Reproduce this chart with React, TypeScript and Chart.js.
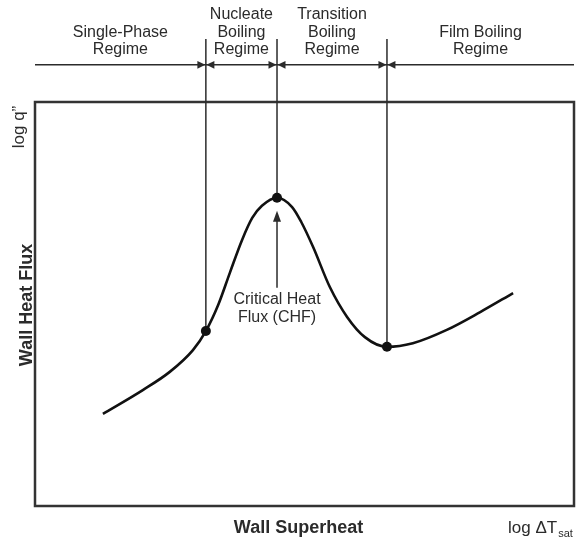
import React, { useEffect, useRef } from 'react';
import { Chart, registerables } from 'chart.js';

Chart.register(...registerables);

// Boiling curve, arbitrary log units (0–100 on each axis)
const LOG_DELTA_T = [12.6, 20.0, 25.0, 29.3, 31.7, 34.0, 36.2, 38.4, 40.3, 42.1, 44.9, 47.7, 49.4, 51.6, 54.7, 57.9, 61.2, 65.3, 70.1, 76.4, 82.6, 88.7];
const LOG_HEAT_FLUX = [22.8, 28.7, 33.2, 38.6, 43.3, 49.8, 57.9, 65.8, 71.3, 74.3, 76.3, 74.0, 70.3, 64.1, 54.2, 46.8, 41.8, 39.4, 40.3, 43.6, 48.0, 52.7];
// indices of the marked points: onset of nucleate boiling, CHF, Leidenfrost minimum
const MARKER_INDEX = [4, 10, 17];

const X_RANGE = [0, 100];
const Y_RANGE = [0, 100];

const REGIME_LABELS = [
  ['Single-Phase', 'Regime'],
  ['Nucleate', 'Boiling', 'Regime'],
  ['Transition', 'Boiling', 'Regime'],
  ['Film Boiling', 'Regime'],
];
const Y_TITLE = 'Wall Heat Flux';
const X_TITLE = 'Wall Superheat';
const Y_LOG_LABEL = 'log q\u201D';
const X_LOG_LABEL = 'log \u0394T';
const X_LOG_SUB = 'sat';
const CHF_LABEL = ['Critical Heat', 'Flux (CHF)'];

// y-values (in axis units, above the plot) for the regime arrow line and the boundary lines' top
const ARROW_LINE_Y = 109.2;
const BOUNDARY_TOP_Y = 115.6;

const FONT = '"Liberation Sans", Arial, Helvetica, sans-serif';
const INK = '#2b2b2b';

function tri(ctx: CanvasRenderingContext2D, pts: number[][]) {
  ctx.beginPath();
  ctx.moveTo(pts[0][0], pts[0][1]);
  ctx.lineTo(pts[1][0], pts[1][1]);
  ctx.lineTo(pts[2][0], pts[2][1]);
  ctx.closePath();
  ctx.fill();
}

const decorPlugin = {
  id: 'boilingDecor',
  beforeDatasetsDraw(chart: any) {
    const { ctx, chartArea: a, scales } = chart;
    const xs = scales.x;
    const ys = scales.y;
    ctx.save();

    // plot frame
    ctx.strokeStyle = '#333';
    ctx.lineWidth = 2.5;
    ctx.strokeRect(a.left, a.top, a.right - a.left, a.bottom - a.top);

    const boundaries = [X_RANGE[0], ...MARKER_INDEX.map((i) => LOG_DELTA_T[i]), X_RANGE[1]];
    const bpx = boundaries.map((v) => xs.getPixelForValue(v));
    const arrowY = ys.getPixelForValue(ARROW_LINE_Y);
    const topY = ys.getPixelForValue(BOUNDARY_TOP_Y);

    // regime arrow line
    ctx.strokeStyle = INK;
    ctx.fillStyle = INK;
    ctx.lineWidth = 1.5;
    ctx.beginPath();
    ctx.moveTo(bpx[0], arrowY);
    ctx.lineTo(bpx[bpx.length - 1], arrowY);
    ctx.stroke();

    // boundary verticals and arrowheads
    MARKER_INDEX.forEach((idx, k) => {
      const px = bpx[k + 1];
      const py = ys.getPixelForValue(LOG_HEAT_FLUX[idx]);
      ctx.beginPath();
      ctx.moveTo(px, topY);
      ctx.lineTo(px, py);
      ctx.stroke();
      const L = 8, H = 3.8;
      tri(ctx, [[px - 0.5, arrowY], [px - 0.5 - L, arrowY - H], [px - 0.5 - L, arrowY + H]]);
      tri(ctx, [[px + 0.5, arrowY], [px + 0.5 + L, arrowY - H], [px + 0.5 + L, arrowY + H]]);
    });

    // regime labels
    ctx.font = `16px ${FONT}`;
    ctx.textAlign = 'center';
    ctx.textBaseline = 'alphabetic';
    REGIME_LABELS.forEach((lines, k) => {
      const cx = (bpx[k] + bpx[k + 1]) / 2;
      const lastBase = arrowY - 10.5;
      lines.forEach((t, j) => {
        ctx.fillText(t, cx, lastBase - (lines.length - 1 - j) * 17.5);
      });
    });

    // CHF annotation
    const pk = MARKER_INDEX[1];
    const pkx = xs.getPixelForValue(LOG_DELTA_T[pk]);
    const pky = ys.getPixelForValue(LOG_HEAT_FLUX[pk]);
    ctx.beginPath();
    ctx.moveTo(pkx, pky + 90);
    ctx.lineTo(pkx, pky + 22);
    ctx.stroke();
    tri(ctx, [[pkx, pky + 13], [pkx - 4, pky + 24], [pkx + 4, pky + 24]]);
    ctx.fillText(CHF_LABEL[0], pkx, pky + 106);
    ctx.fillText(CHF_LABEL[1], pkx, pky + 124);

    // axis titles
    ctx.font = `bold 18px ${FONT}`;
    ctx.textAlign = 'center';
    ctx.fillText(X_TITLE, (a.left + a.right) / 2 - 6, a.bottom + 27);
    ctx.save();
    ctx.translate(a.left - 3, (a.top + a.bottom) / 2 + 1);
    ctx.rotate(-Math.PI / 2);
    ctx.fillText(Y_TITLE, 0, 0);
    ctx.restore();

    ctx.font = `17px ${FONT}`;
    ctx.save();
    ctx.translate(a.left - 11, a.top + 25);
    ctx.rotate(-Math.PI / 2);
    ctx.textAlign = 'center';
    ctx.fillText(Y_LOG_LABEL, 0, 0);
    ctx.restore();

    ctx.textAlign = 'left';
    const lx = a.right - 66;
    ctx.fillText(X_LOG_LABEL, lx, a.bottom + 27);
    const w = ctx.measureText(X_LOG_LABEL).width;
    ctx.font = `11px ${FONT}`;
    ctx.fillText(X_LOG_SUB, lx + w + 1, a.bottom + 31);

    ctx.restore();
  },
};

export default function App() {
  const ref = useRef<HTMLCanvasElement | null>(null);

  useEffect(() => {
    if (!ref.current) return;
    const curve = LOG_DELTA_T.map((x, i) => ({ x, y: LOG_HEAT_FLUX[i] }));
    const markers = MARKER_INDEX.map((i) => ({ x: LOG_DELTA_T[i], y: LOG_HEAT_FLUX[i] }));
    const chart = new Chart(ref.current, {
      type: 'line',
      data: {
        datasets: [
          {
            data: markers,
            showLine: false,
            pointRadius: 5,
            pointBackgroundColor: '#111',
            pointBorderColor: '#111',
            pointBorderWidth: 0,
            order: 0,
          },
          {
            data: curve,
            borderColor: '#111',
            borderWidth: 2.6,
            pointRadius: 0,
            cubicInterpolationMode: 'monotone',
            fill: false,
            order: 1,
          },
        ],
      },
      options: {
        animation: false,
        responsive: true,
        maintainAspectRatio: false,
        layout: { padding: { left: 35, top: 102, right: 6, bottom: 33 } },
        plugins: { legend: { display: false }, tooltip: { enabled: false } },
        events: [],
        scales: {
          x: { type: 'linear', display: false, min: X_RANGE[0], max: X_RANGE[1] },
          y: { type: 'linear', display: false, min: Y_RANGE[0], max: Y_RANGE[1] },
        },
      },
      plugins: [decorPlugin],
    });
    return () => chart.destroy();
  }, []);

  return (
    <div style={{ position: 'fixed', left: 0, top: 0, width: 580, height: 539, background: '#fff' }}>
      <canvas ref={ref} />
    </div>
  );
}
